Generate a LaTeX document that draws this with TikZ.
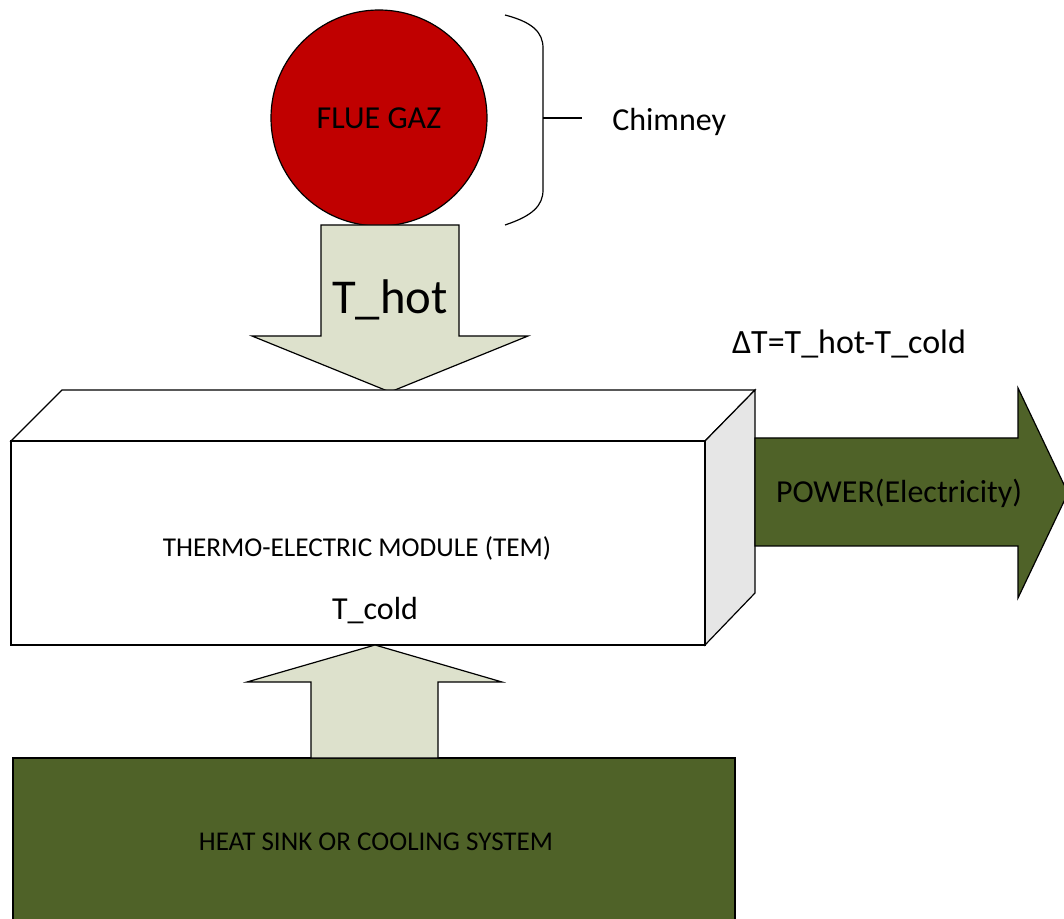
\documentclass[tikz,border=0pt]{standalone}
\usepackage{fontspec}
\setmainfont{Carlito}
\definecolor{flue}{HTML}{C00000}
\definecolor{olive}{HTML}{4F6228}
\definecolor{pale}{HTML}{DDE1CC}
\definecolor{side}{HTML}{E6E6E6}
\begin{document}
\begin{tikzpicture}[x=0.75pt,y=-0.75pt,
  outl/.style={draw=black,line width=0.9pt,line join=miter},
  lbl/.style={inner sep=0pt,text=black}]
\useasboundingbox (0,0) rectangle (1064,919);
\begin{scope}
\clip (0,0) rectangle (1064,919);
% flue gas circle
\node[circle,outl,fill=flue,minimum size=216*0.75pt,inner sep=0pt] (flue) at (379,118) {};
\node[lbl,font=\fontsize{24}{28}\selectfont] (fluetxt) at (379,118) {FLUE GAZ};
% brace
\draw[line width=0.9pt] (505,15) .. controls (532,22) and (543,32) .. (543,48) -- (543,190) .. controls (543,206) and (532,216) .. (505,225);
\coordinate (bmid) at (543,118);
\node[lbl,font=\fontsize{24}{28}\selectfont,anchor=west] (chim) at (612,122) {Chimney};
\draw[line width=0.9pt] (bmid) -- ++(39,0);
% T_hot arrow
\draw[outl,fill=pale] (321,225) -- (459,225) -- (459,336) -- (528,336) -- (390,392) -- (252,336) -- (321,336) -- cycle;
\node[lbl,font=\fontsize{36.5}{42}\selectfont] (thot) at (390,300) {T\_hot};
% TEM box
\draw[outl,fill=white] (11,441) -- (62,390) -- (755,390) -- (705,441) -- cycle;
\draw[outl,fill=side] (705,441) -- (755,390) -- (755,593) -- (705,645) -- cycle;
\draw[outl,fill=white] (11,441) rectangle (705,645);
\node[lbl,font=\fontsize{20.4}{24}\selectfont] (tem) at (357,548) {THERMO-ELECTRIC MODULE (TEM)};
\node[lbl,font=\fontsize{24}{28}\selectfont] (tcold) at (375,611) {T\_cold};
% delta T
\node[lbl,font=\fontsize{25.5}{30}\selectfont] (dt) at (849,344) {ΔT=T\_hot-T\_cold};
% power arrow
\draw[outl,fill=olive] (755,438) -- (1018,438) -- (1018,388) -- (1068,493) -- (1018,598) -- (1018,546) -- (755,546) -- cycle;
\node[lbl,font=\fontsize{24}{28}\selectfont] (power) at (899,493) {POWER(Electricity)};
% heat sink
\draw[outl,fill=olive] (13,758) rectangle (735,930);
\node[lbl,font=\fontsize{20.3}{24}\selectfont] (sink) at (376,842) {HEAT SINK OR COOLING SYSTEM};
% T_cold arrow
\draw[outl,fill=pale] (311,758) -- (311,682) -- (247,682) -- (375,645) -- (502,682) -- (438,682) -- (438,758) -- cycle;
\end{scope}
\end{tikzpicture}
\end{document}
